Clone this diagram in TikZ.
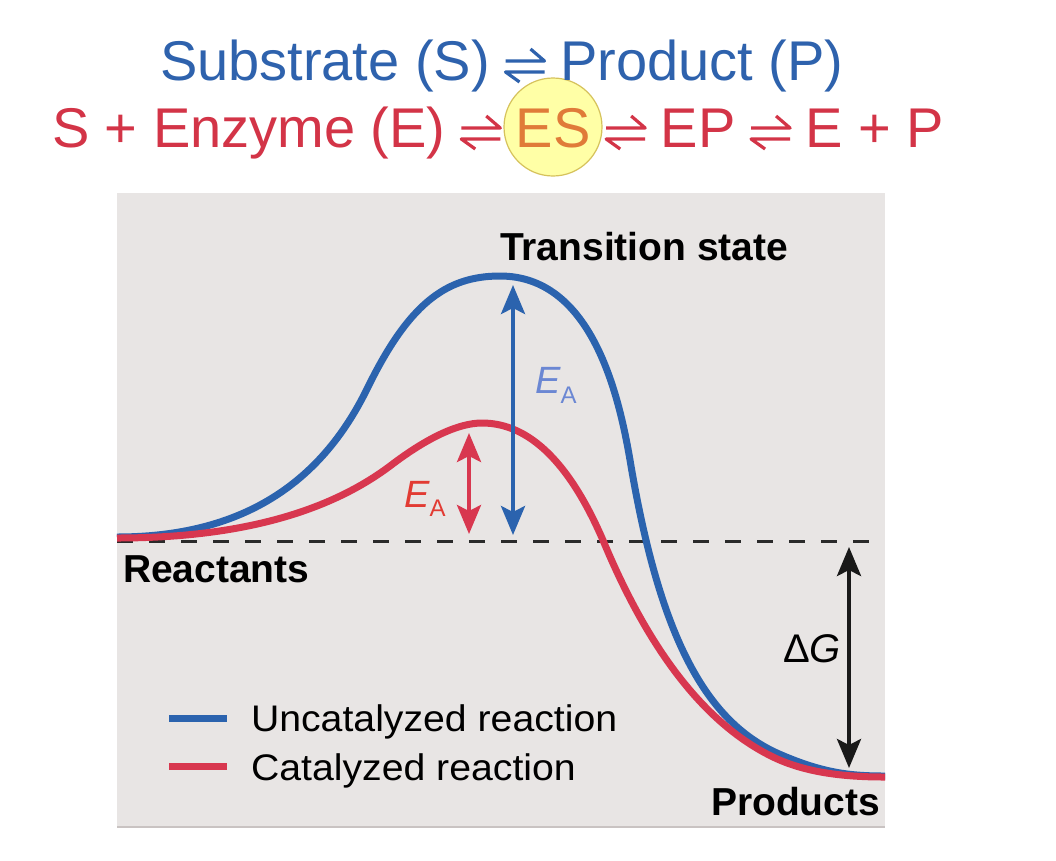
\documentclass[tikz,border=0pt]{standalone}
\usepackage{fontspec}
\setmainfont{Liberation Sans}
\usetikzlibrary{arrows.meta}
\definecolor{tblue}{HTML}{2E62AD}
\definecolor{tred}{HTML}{D33447}
\definecolor{esorange}{HTML}{E07B39}
\definecolor{esfill}{HTML}{FFFFA6}
\definecolor{esring}{HTML}{D6C25C}
\definecolor{panel}{HTML}{E8E5E4}
\definecolor{paneledge}{HTML}{C9C3C2}
\definecolor{cblue}{HTML}{2B63AE}
\definecolor{cred}{HTML}{D8374F}
\definecolor{eablue}{HTML}{6B87D3}
\definecolor{eared}{HTML}{E23B33}
\definecolor{dashcol}{HTML}{2A2A2A}
\begin{document}
\begin{tikzpicture}[x=1pt,y=-1pt,
  every node/.style={inner sep=0pt, outer sep=0pt},
  title/.style={font=\fontsize{56}{60}\selectfont, anchor=base west},
  boldlbl/.style={font=\fontsize{39}{42}\selectfont\bfseries, text=black},
  leg/.style={font=\fontsize{37}{40}\selectfont, text=black, xscale=1.06},
  curve/.style={line width=7pt, line cap=butt, line join=round},
  dbl/.style={line width=4pt, arrows={Stealth[length=29pt,width=24pt,inset=6pt]-Stealth[length=29pt,width=24pt,inset=6pt]}},
  ealbl/.style={font=\fontsize{38}{40}\selectfont},
  harp/.pic={
    \draw[line width=3.2pt, line join=round, line cap=butt] (0,-19) -- (39,-19) -- (25,-31);
    \draw[line width=3.2pt, line join=round, line cap=butt] (39,-8) -- (0,-8) -- (14,2);
  }
]
\useasboundingbox (0,0) rectangle (1056,860);
\fill[white] (0,0) rectangle (1056,860);
% panel
\fill[panel] (117,193) rectangle (885,827);
\draw[paneledge, line width=2.5pt] (117,827) -- (885,827);
% ES highlight
\draw[esring, fill=esfill, line width=1.2pt] (553,127) circle (49pt);
% title line 1
\node[title, text=tblue] (t1a) at (160,80) {Substrate (S)};
\pic[tblue] at ([xshift=15.6pt]t1a.base east) {harp};
\node[title, text=tblue] (t1b) at ([xshift=70.2pt]t1a.base east) {Product (P)};
% title line 2
\node[title, text=tred] (t2a) at (52,147) {S + Enzyme (E)};
\pic[tred] at ([xshift=15.6pt]t2a.base east) {harp};
\node[title, text=esorange] (es) at ([xshift=70.2pt]t2a.base east) {ES};
\pic[tred] at ([xshift=15.6pt]es.base east) {harp};
\node[title, text=tred] (ep) at ([xshift=70.2pt]es.base east) {EP};
\pic[tred] at ([xshift=15.6pt]ep.base east) {harp};
\node[title, text=tred] (ep2) at ([xshift=70.2pt]ep.base east) {E + P};
% dashed reference line
\coordinate (dl) at (117,541);
\coordinate (dr) at (885,541);
\draw[dashcol, line width=3pt, dash pattern=on 16pt off 16pt] (dl) -- (dr);
% curves
\draw[curve, cblue] (117,537) .. controls (240,537) and (320,485) .. (367,389)
  .. controls (408,305) and (445,276) .. (500,276)
  .. controls (590,276) and (618,390) .. (630,460)
  .. controls (660,640) and (707,721) .. (777,753)
  .. controls (822,773) and (850,776) .. (885,776);
\draw[curve, cred] (117,538) .. controls (235,538) and (326,514) .. (390,466)
  .. controls (428,437) and (459,423) .. (482,423)
  .. controls (530,423) and (571,464) .. (605,545)
  .. controls (651,654) and (707,725) .. (773,757)
  .. controls (808,774) and (850,777) .. (885,777);
% activation energy arrows
\coordinate (bt) at (513,285);
\coordinate (bb) at (513,535);
\draw[dbl, cblue] (bt) -- (bb);
\coordinate (rt) at (469,433);
\coordinate (rb) at (469,534);
\draw[dbl, cred] (rt) -- (rb);
\coordinate (gt) at (849,547);
\coordinate (gb) at (849,768);
\draw[dbl, black!90] (gt) -- (gb);
% labels
\node[ealbl, text=eablue, anchor=base west] (eab) at (535,393) {\textit{E}\raisebox{-10pt}{\fontsize{24}{26}\selectfont A}};
\node[ealbl, text=eared, anchor=base west] (ear) at (404,507) {\textit{E}\raisebox{-9pt}{\fontsize{24}{26}\selectfont A}};
\node[font=\fontsize{40}{42}\selectfont, text=black, anchor=base west] (dg) at (783,662) {Δ\textit{G}};
\node[boldlbl, anchor=base west] (ts) at (500,260) {Transition state};
\node[boldlbl, anchor=base west] (re) at (123,582) {Reactants};
\node[boldlbl, anchor=base west] (pr) at (711,815) {Products};
% legend
\coordinate (l1a) at (169,718);
\coordinate (l1b) at (227,718);
\draw[line width=7pt, cblue] (l1a) -- (l1b);
\node[leg, anchor=base west] (lt1) at (251,731) {Uncatalyzed reaction};
\coordinate (l2a) at (169,766);
\coordinate (l2b) at (227,766);
\draw[line width=7pt, cred] (l2a) -- (l2b);
\node[leg, anchor=base west] (lt2) at (251,780) {Catalyzed reaction};
\end{tikzpicture}
\end{document}
